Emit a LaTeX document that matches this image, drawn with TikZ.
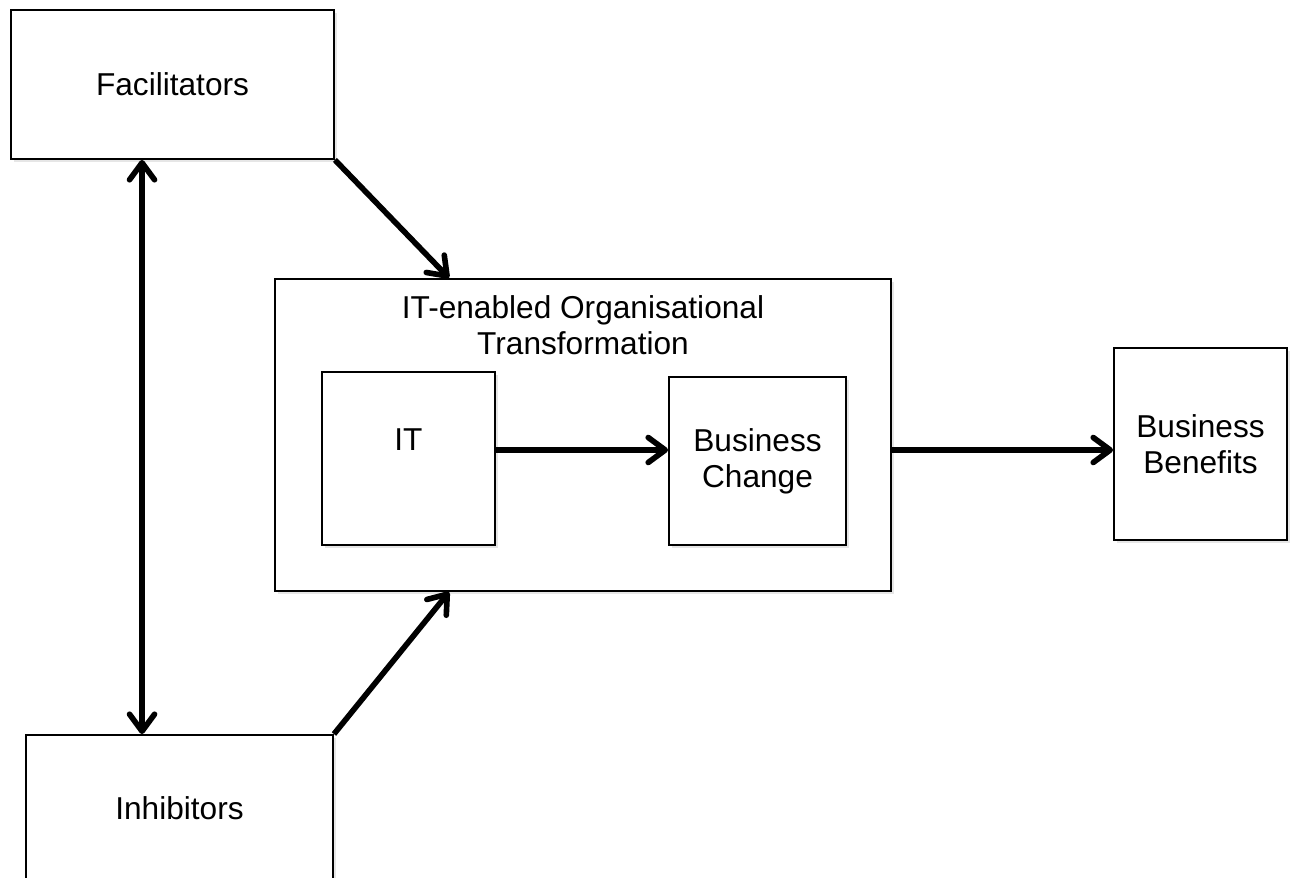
\documentclass[tikz,border=0pt]{standalone}
\usepackage{fontspec}
\setmainfont{Liberation Sans}
\usetikzlibrary{arrows.meta, shadows}

\begin{document}
\begin{tikzpicture}[box/.style = {draw, black, line width=1.1pt, fill=white, inner sep=0pt, align=center,
                      font=\fontsize{18}{20.5}\selectfont,
                      drop shadow={opacity=0.2, shadow xshift=1.5pt, shadow yshift=-1.5pt}},
                    txt/.style = {align=center, inner sep=0pt, font=\fontsize{18}{20.5}\selectfont},
                    link/.style = {black, line width=3.2pt, >={Straight Barb[length=0.34cm, width=0.5cm, round]}}]
    \useasboundingbox (0,0) rectangle (25.84,17.54);
    %
    \node[box, minimum width=6.46cm, minimum height=2.98cm] (fac) at (3.45,15.85) {Facilitators};
    \node[box, minimum width=6.14cm, minimum height=2.92cm] (inh) at (3.59,1.38) {Inhibitors};
    \node[box, minimum width=12.32cm, minimum height=6.24cm] (trans) at (11.66,8.84) {};
    \node[txt] (title) at ([yshift=-0.95cm]trans.north) {IT-enabled Organisational\\Transformation};
    \node[box, minimum width=3.46cm, minimum height=3.46cm] (it) at (8.17,8.37) {};
    \node[txt] (itname) at ([yshift=0.37cm]it.center) {IT};
    \node[box, minimum width=3.54cm, minimum height=3.36cm] (bc) at (15.15,8.32) {Business\\Change};
    \node[box, minimum width=3.46cm, minimum height=3.84cm] (ben) at (24.01,8.66) {Business\\Benefits};
    %
    \coordinate (mid) at (0,8.54);
    \coordinate (ftip) at ([xshift=3.5cm]trans.north west);
    \coordinate (itip) at ([xshift=3.5cm]trans.south west);
    \coordinate (vtop) at ([xshift=2.64cm]fac.south west);
    %
    \draw [link] [->] (it.east |- mid) -- (bc.west |- mid);
    \draw [link] [->] (trans.east |- mid) -- (ben.west |- mid);
    \draw [link] [->] (fac.south east) -- (ftip);
    \draw [link] [->] (inh.north east) -- (itip);
    \draw [link] [<->] (vtop) -- (vtop |- inh.north); % Vertical line
\end{tikzpicture}
\end{document}
